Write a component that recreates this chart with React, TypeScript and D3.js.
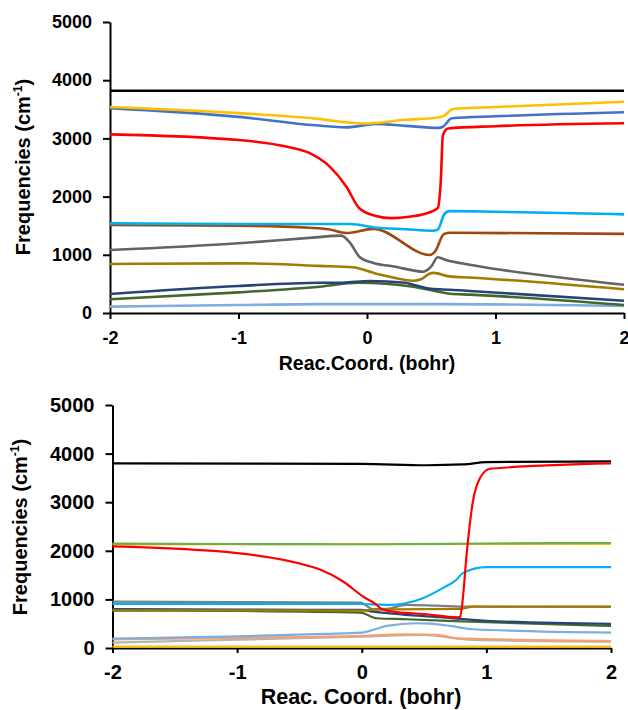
import React, { useEffect, useRef } from 'react'
import * as d3 from 'd3'

type Pt = [number, number]

const xTicks = [-2, -1, 0, 1, 2]
const yTicks = [0, 1000, 2000, 3000, 4000, 5000]

// ---- upper panel: Reac.Coord. (bohr) ----
const topBlack: Pt[] = [[-2, 3820], [2, 3820]]
const topYellow: Pt[] = [[-2, 3540], [-1, 3435], [-0.4, 3340], [-0.03, 3255], [0.3, 3320], [0.55, 3360], [0.6, 3390], [0.67, 3505], [1, 3540], [2, 3630]]
const topBlue: Pt[] = [[-2, 3520], [-1, 3370], [-0.4, 3225], [-0.16, 3190], [0.07, 3250], [0.3, 3215], [0.56, 3180], [0.59, 3200], [0.66, 3345], [1, 3380], [2, 3450]]
const topRed: Pt[] = [[-2, 3070], [-1, 2973], [-0.63, 2860], [-0.45, 2750], [-0.29, 2515], [-0.16, 2170], [-0.06, 1800], [0.07, 1667], [0.19, 1630], [0.33, 1655], [0.5, 1740], [0.55, 1800], [0.575, 2300], [0.59, 3050], [0.63, 3170], [1, 3210], [2, 3260]]
const topCyan: Pt[] = [[-2, 1540], [-1, 1530], [-0.45, 1530], [-0.13, 1528], [0.07, 1466], [0.3, 1440], [0.51, 1414], [0.55, 1430], [0.6, 1690], [0.64, 1750], [1, 1740], [2, 1695]]
const topBrown: Pt[] = [[-2, 1512], [-1, 1500], [-0.45, 1465], [-0.3, 1440], [-0.16, 1375], [0.05, 1445], [0.49, 997], [0.53, 1060], [0.6, 1360], [0.65, 1380], [2, 1360]]
const topGray: Pt[] = [[-2, 1082], [-1, 1198], [-0.4, 1300], [-0.2, 1330], [-0.13, 1200], [-0.06, 968], [0.05, 860], [0.21, 800], [0.44, 710], [0.5, 800], [0.55, 957], [0.62, 905], [0.8, 830], [2, 485]]
const topGold: Pt[] = [[-2, 842], [-1, 853], [-0.37, 810], [-0.11, 785], [0.05, 690], [0.15, 636], [0.36, 555], [0.42, 580], [0.49, 680], [0.52, 690], [0.64, 630], [0.8, 610], [2, 407]]
const topNavy: Pt[] = [[-2, 326], [-1, 464], [-0.37, 520], [-0.19, 521], [0.02, 550], [0.3, 520], [0.36, 485], [0.5, 415], [0.65, 400], [0.8, 378], [2, 211]]
const topGreen: Pt[] = [[-2, 235], [-1, 355], [-0.37, 452], [-0.07, 521], [0.36, 452], [0.58, 355], [0.65, 330], [0.8, 315], [2, 137]]
const topPale: Pt[] = [[-2, 110], [-1, 137], [-0.37, 152], [0.57, 152], [2, 120]]

// ---- lower panel: Reac. Coord. (bohr) ----
const botBlack: Pt[] = [[-2, 3798], [0, 3790], [0.52, 3760], [0.81, 3777], [1, 3825], [2, 3839]]
const botRed: Pt[] = [[-2, 2091], [-1, 1954], [-0.41, 1678], [-0.33, 1610], [-0.15, 1369], [0.01, 1059], [0.12, 887], [0.15, 819], [0.25, 750], [0.5, 700], [0.77, 633], [0.79, 640], [0.81, 990], [0.84, 1884], [0.89, 2986], [0.95, 3502], [1.03, 3688], [2, 3798]]
const botYellowHi: Pt[] = [[-2, 2132], [2, 2142]]
const botGreen: Pt[] = [[-2, 2147], [-1, 2140], [0, 2135], [1, 2150], [2, 2161]]
const botCyan: Pt[] = [[-2, 908], [-1, 906], [-0.03, 905], [0.23, 887], [0.35, 920], [0.49, 1025], [0.65, 1232], [0.76, 1403], [0.81, 1541], [1, 1665], [2, 1665]]
const botGold: Pt[] = [[-2, 775], [-1, 775], [0, 770], [0.1, 790], [0.5, 798], [0.8, 805], [0.89, 852], [2, 852]]
const botGray: Pt[] = [[-2, 956], [-1, 945], [-0.01, 935], [0.09, 798], [0.2, 805], [0.36, 887], [0.6, 870], [0.85, 850], [2, 848]]
const botNavy: Pt[] = [[-2, 798], [-1, 790], [-0.01, 784], [0.09, 750], [0.63, 633], [1, 560], [2, 495]]
const botDkGreen: Pt[] = [[-2, 770], [-1, 762], [-0.01, 729], [0.12, 612], [0.36, 592], [1, 530], [2, 454]]
const botLtBlue: Pt[] = [[-2, 195], [-1, 240], [-0.3, 290], [0, 316], [0.09, 371], [0.2, 454], [0.44, 509], [0.55, 500], [0.71, 454], [0.89, 386], [2, 316]]
const botOrange: Pt[] = [[-2, 179], [-1, 210], [0, 248], [0.36, 282], [0.6, 270], [0.77, 200], [2, 144]]
const botLtGray: Pt[] = [[-2, 110], [-1, 170], [0, 234], [0.5, 268], [0.89, 165], [2, 131]]
const botYellowLo: Pt[] = [[-2, 28], [2, 28]]

const topSeries = [
  { data: topBlack, color: '#000000' },
  { data: topPale, color: '#7EAEE0' },
  { data: topGreen, color: '#43682B' },
  { data: topNavy, color: '#264478' },
  { data: topGold, color: '#A07C00' },
  { data: topGray, color: '#636363' },
  { data: topBrown, color: '#9E480E' },
  { data: topCyan, color: '#00B0F0' },
  { data: topRed, color: '#FF0000' },
  { data: topBlue, color: '#4472C4' },
  { data: topYellow, color: '#FFC000' },
]

const botSeries = [
  { data: botYellowLo, color: '#FFC000' },
  { data: botLtGray, color: '#B4B4B4' },
  { data: botOrange, color: '#F4A070' },
  { data: botLtBlue, color: '#7EAEE0' },
  { data: botDkGreen, color: '#43682B' },
  { data: botNavy, color: '#264478' },
  { data: botGray, color: '#7F7F7F' },
  { data: botGold, color: '#A07C00' },
  { data: botCyan, color: '#00B0F0' },
  { data: botYellowHi, color: '#FFC000' },
  { data: botGreen, color: '#70AD47' },
  { data: botBlack, color: '#000000' },
  { data: botRed, color: '#FF0000' },
]

const FONT = "'Liberation Sans', Arial, sans-serif"

function drawPanel(svg: any, series: any[], o: any) {
  const x = d3.scaleLinear().domain([-2, 2]).range(o.xr)
  const y = d3.scaleLinear().domain([0, 5000]).range(o.yr)

  const line = d3.line<Pt>()
    .x(d => x(d[0]))
    .y(d => y(d[1]))
    .curve(d3.curveMonotoneX)

  const xAxis = svg.append('g')
    .attr('transform', 'translate(0,' + o.yr[0] + ')')
    .call(d3.axisBottom(x).tickValues(xTicks).tickFormat(d3.format('d')).tickSize(o.tick).tickSizeOuter(0).tickPadding(o.xPad))
  const yAxis = svg.append('g')
    .attr('transform', 'translate(' + o.xr[0] + ',0)')
    .call(d3.axisLeft(y).tickValues(yTicks).tickFormat(d3.format('d')).tickSize(7).tickSizeOuter(0).tickPadding(11))

  for (const ax of [xAxis, yAxis]) {
    ax.selectAll('path, line').attr('stroke', '#000').attr('stroke-width', 2)
    ax.selectAll('text')
      .attr('fill', '#000')
      .style('font-family', FONT)
      .style('font-weight', 'bold')
      .style('font-size', o.tickFont + 'px')
  }
  xAxis.selectAll('text').text((d: number) => (d < 0 ? '-' + Math.abs(d) : String(d)))

  svg.append('g')
    .selectAll('path')
    .data(series)
    .enter()
    .append('path')
    .attr('d', (s: any) => line(s.data))
    .attr('fill', 'none')
    .attr('stroke', (s: any) => s.color)
    .attr('stroke-width', o.lw)
    .attr('stroke-linejoin', 'round')

  svg.append('text')
    .attr('x', o.xTitle[0])
    .attr('y', o.xTitle[1])
    .attr('text-anchor', 'middle')
    .style('font-family', FONT)
    .style('font-weight', 'bold')
    .style('font-size', o.xTitleFont + 'px')
    .text(o.xLabel)

  const yt = svg.append('text')
    .attr('transform', 'translate(' + o.yTitle[0] + ',' + o.yTitle[1] + ') rotate(-90)')
    .attr('text-anchor', 'middle')
    .style('font-family', FONT)
    .style('font-weight', 'bold')
    .style('font-size', o.yTitleFont + 'px')
  yt.append('tspan').text('Frequencies (cm')
  yt.append('tspan').attr('dy', -8).style('font-size', '12px').text('-1')
  yt.append('tspan').attr('dy', 8).text(')')
}

function App() {
  const ref = useRef<SVGSVGElement>(null)

  useEffect(() => {
    const svg = d3.select(ref.current)
    svg.selectAll('*').remove()

    drawPanel(svg, topSeries, {
      xr: [110, 624], yr: [313, 22], tick: 6, xPad: 12, lw: 2.6,
      tickFont: 18, xTitleFont: 19.5, yTitleFont: 20,
      xLabel: 'Reac.Coord. (bohr)', xTitle: [367, 370], yTitle: [30, 167],
    })
    drawPanel(svg, botSeries, {
      xr: [112.5, 611], yr: [648, 405], tick: 5, xPad: 12, lw: 2.2,
      tickFont: 20, xTitleFont: 21.5, yTitleFont: 20,
      xLabel: 'Reac. Coord. (bohr)', xTitle: [361, 704], yTitle: [27, 527],
    })
  }, [])

  return (
    <div style={{ position: 'absolute', left: 0, top: 0 }}>
      <svg ref={ref} width={628} height={710} style={{ display: 'block', background: '#fff' }}></svg>
    </div>
  )
}

export default App
